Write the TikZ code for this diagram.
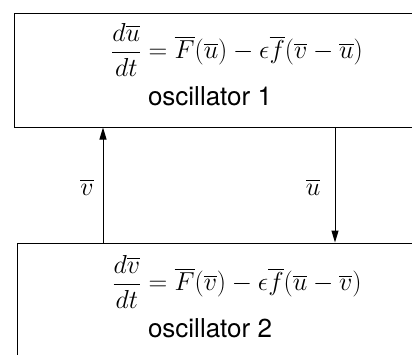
\documentclass[tikz,border=0pt]{standalone}
\usepackage{fix-cm}
\usepackage{amsmath}
\usepackage{fontspec}
\setsansfont{TeX Gyre Heros}
\usepackage{tikz}
\usetikzlibrary{arrows.meta}

\begin{document}
\begin{tikzpicture}[
        x=1pt, y=-1pt,
        font=\fontsize{26}{30}\selectfont,
        oscbox/.style ={draw, line width=1pt, rectangle, inner sep=0pt},
        eqn/.style    ={inner sep=0pt},
        osclabel/.style={inner sep=0pt, font=\fontsize{26}{30}\selectfont\sffamily},
        flow/.style   ={-{Triangle[length=12pt,width=7pt]}, line width=1pt},
    ]
        \useasboundingbox (0,0) rectangle (412,354);
        \clip (0,0) rectangle (412,354);

        % --- oscillator 1 (top) ---
        \node[oscbox, minimum width=426pt, minimum height=114pt] (osc1) at (227,70) {};
        \node[eqn] (eq1) at (237,50)
            {$\displaystyle \frac{d\overline{u}}{dt} = \overline{F}(\overline{u}) - \epsilon\overline{f}(\overline{v} - \overline{u})$};
        \node[osclabel] (lbl1) at (210,96) {oscillator 1};

        % --- oscillator 2 (bottom) ---
        \node[oscbox, minimum width=423pt, minimum height=157pt] (osc2) at (228.5,321.5) {};
        \node[eqn] (eq2) at (237,282)
            {$\displaystyle \frac{d\overline{v}}{dt} = \overline{F}(\overline{v}) - \epsilon\overline{f}(\overline{u} - \overline{v})$};
        \node[osclabel] (lbl2) at (210,328) {oscillator 2};

        % --- coupling ---
        \coordinate (vline) at (103,0);
        \coordinate (uline) at (335,0);
        \draw[flow] (vline |- osc2.north) -- (vline |- osc1.south);
        \draw[flow] (uline |- osc1.south) -- (uline |- osc2.north);
        \node[eqn] (vlbl) at (87,187) {$\overline{v}$};
        \node[eqn] (ulbl) at (313,187) {$\overline{u}$};
    \end{tikzpicture}
\end{document}
